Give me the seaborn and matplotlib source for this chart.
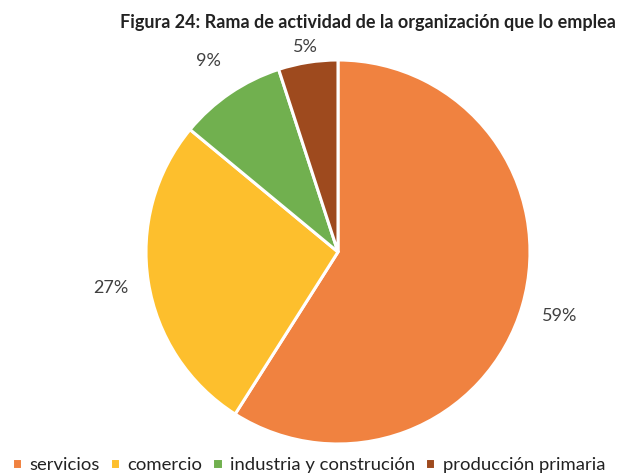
import matplotlib
matplotlib.use("Agg")
import matplotlib.pyplot as plt
import seaborn as sns
import numpy as np

sns.set_theme(style="white")
plt.rcParams['font.family'] = ['Lato', 'DejaVu Sans']

categories = ["servicios", "comercio", "industria y construción", "producción primaria"]
values = [59, 27, 9, 5]
colors = ["#F08240", "#FDBF2D", "#71B04F", "#9E4A1E"]
title = "Figura 24: Rama de actividad de la organización que lo emplea"

fig = plt.figure(figsize=(6.22, 4.75), dpi=100)
ax = fig.add_axes([0.2347, 0.0653, 0.6174, 0.8084])

wedges, texts, autotexts = ax.pie(
    values, colors=colors, startangle=90, counterclock=False,
    autopct=lambda p: f"{p:.0f}%", pctdistance=1.2,
    wedgeprops=dict(edgecolor="white", linewidth=2.2),
    textprops=dict(fontsize=13, color="#404040"))
# the small slice label sits closer to the pie
x, y = autotexts[3].get_position()
autotexts[3].set_position((x * 1.08 / 1.2, y * 1.08 / 1.2))
ax.set_xlim(-1, 1)
ax.set_ylim(-1, 1)
ax.set_aspect("equal")

fig.text(0.592, 0.952, title, ha="center", va="center", fontsize=13,
         fontweight="bold", color="#222222")

leg = fig.legend(wedges, categories, loc="lower left", bbox_to_anchor=(-0.008, -0.03),
                 ncol=4, frameon=False, fontsize=13.3, handlelength=0.55, handleheight=0.55,
                 handletextpad=0.4, columnspacing=0.55, labelcolor="#222222")
fig.savefig("out.png", dpi=100)
